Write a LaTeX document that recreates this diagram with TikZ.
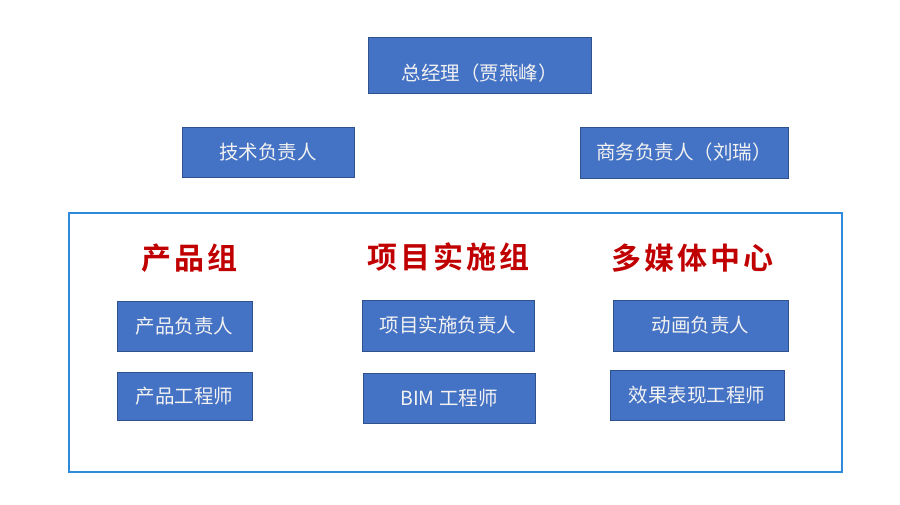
\documentclass[tikz,border=0pt]{standalone}
\usepackage{fontspec}
\setmainfont{Noto Sans CJK SC}[BoldFont={Noto Sans CJK SC Bold}]
\definecolor{boxfill}{RGB}{68,114,196}
\definecolor{boxline}{RGB}{47,82,143}
\definecolor{framec}{RGB}{46,138,218}
\definecolor{headred}{RGB}{192,0,0}
\definecolor{boxtxt}{RGB}{242,242,242}
\tikzset{
  box/.style={draw=boxline, fill=boxfill, line width=1pt, inner sep=0pt,
              text=boxtxt, font=\fontsize{19.5}{22}\selectfont},
  boxtext/.style={text=boxtxt, inner sep=0pt, font=\fontsize{19.5}{22}\selectfont},
  head/.style={text=headred, inner sep=0pt,
               font=\bfseries\fontsize{30}{34}\selectfont\addfontfeature{LetterSpace=10}}
}
\begin{document}
\begin{tikzpicture}[x=1pt,y=-1pt]
\useasboundingbox (0,0) rectangle (900,504);
% top
\node[box, minimum width=223pt, minimum height=56pt] (gm) at (479.5,65) {};
\node[boxtext] (gmt) at (479.5,73) {总经理（贾燕峰）};
\node[box, minimum width=172pt, minimum height=50pt] (tech) at (268,152) {技术负责人};
\node[box, minimum width=208pt, minimum height=51pt] (biz) at (684,152.5) {商务负责人（刘瑞）};
% frame
\coordinate (fa) at (69,213);
\coordinate (fb) at (842,472);
\draw[framec, line width=1.6pt] (fa) rectangle (fb);
% headers
\node[head] (h1) at (189,258) {产品组};
\node[head] (h2) at (448,257) {项目实施组};
\node[head] (h3) at (692,258) {多媒体中心};
% group boxes
\node[box, minimum width=135pt, minimum height=50pt] (p1) at (184.5,326) {产品负责人};
\node[box, minimum width=135pt, minimum height=48pt] (p2) at (184.5,396) {产品工程师};
\node[box, minimum width=172pt, minimum height=51pt] (x1) at (448,325.5) {项目实施负责人};
\node[box, minimum width=172pt, minimum height=50pt] (x2) at (449,398) {BIM 工程师};
\node[box, minimum width=175pt, minimum height=51pt] (m1) at (700.5,325.5) {动画负责人};
\node[box, minimum width=174pt, minimum height=50pt] (m2) at (697,395) {效果表现工程师};
\end{tikzpicture}
\end{document}
